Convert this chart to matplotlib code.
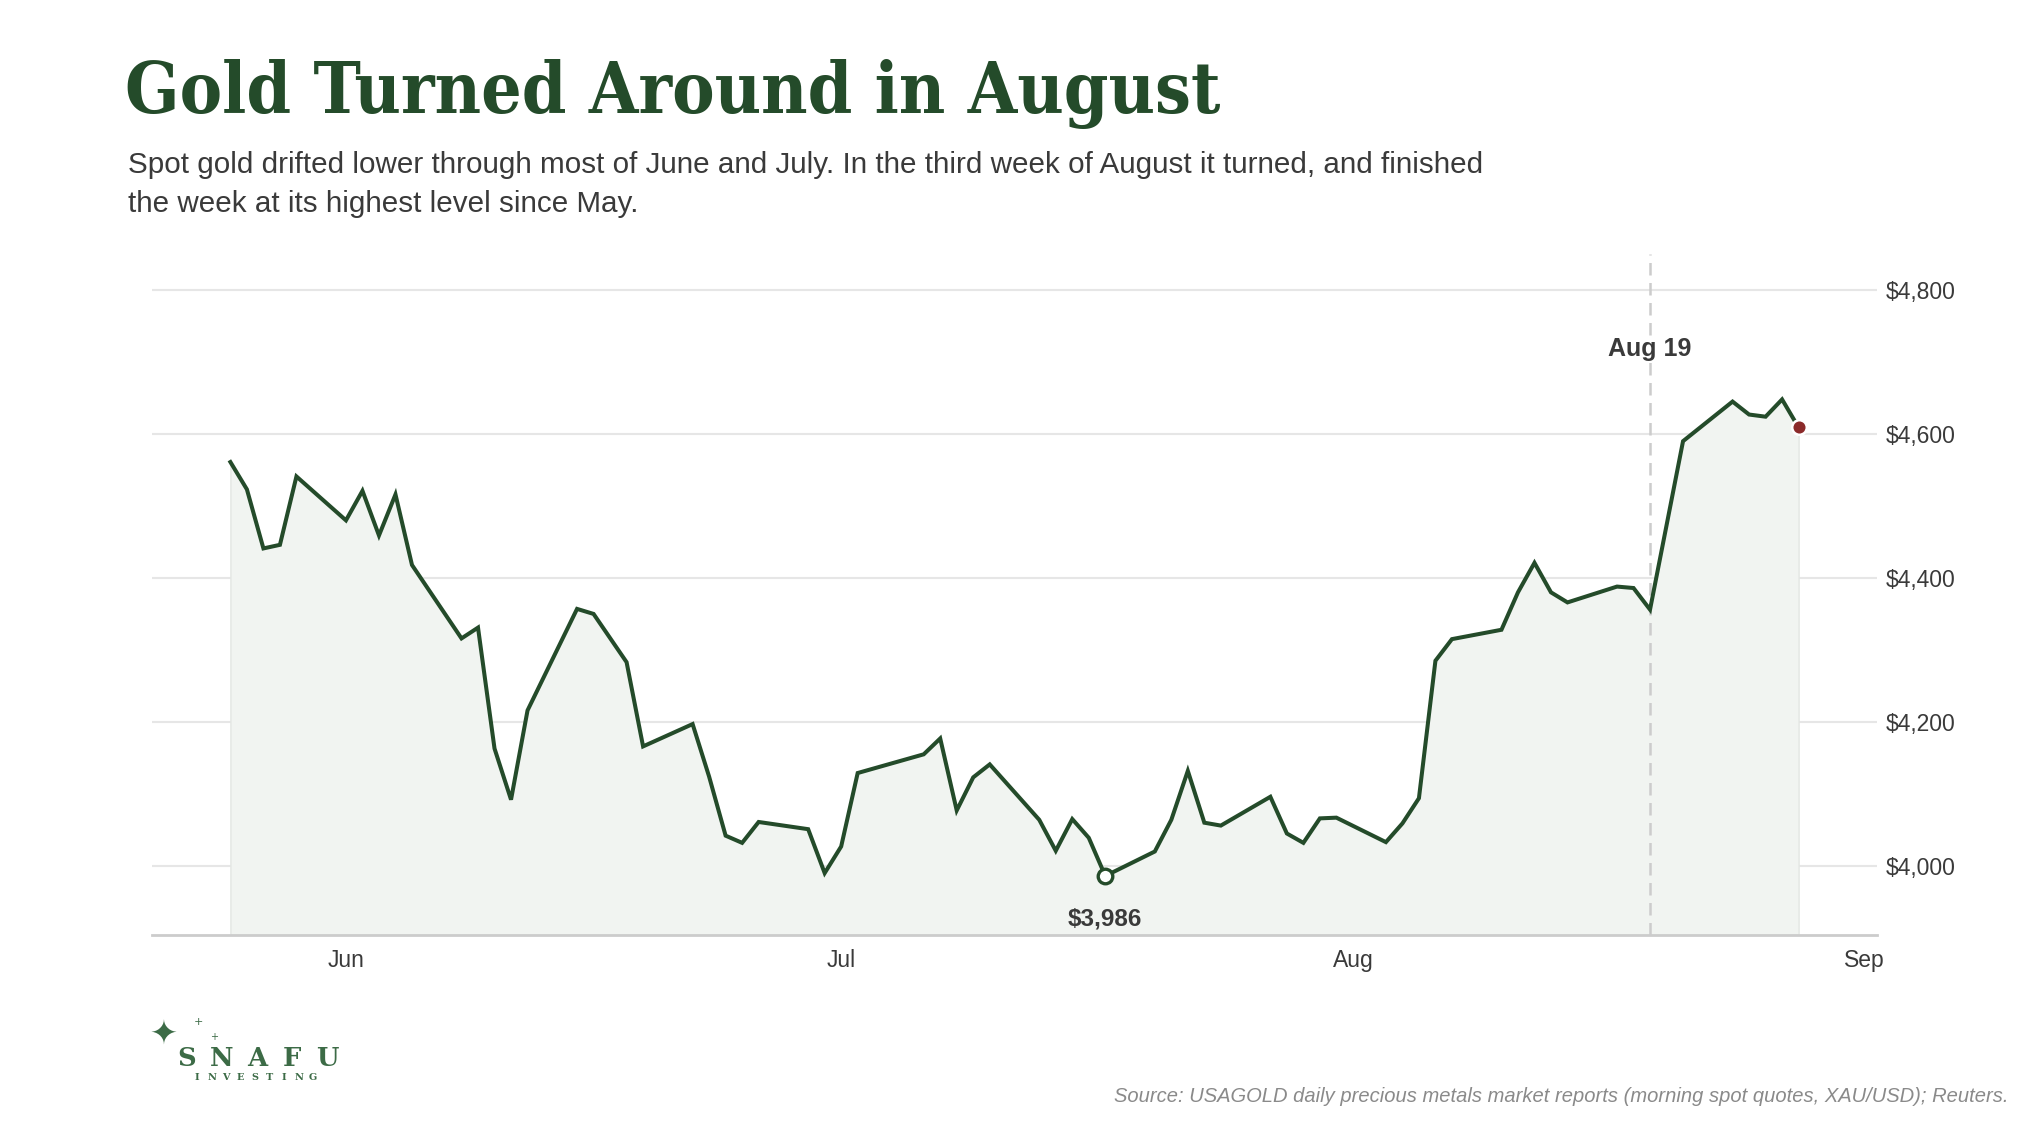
import matplotlib
matplotlib.use("Agg")
import matplotlib.pyplot as plt
import matplotlib.dates as mdates
import matplotlib.ticker as mticker
import pandas as pd

# morning spot quotes, XAU/USD
dates = [
    "2026-05-25", "2026-05-26", "2026-05-27", "2026-05-28", "2026-05-29",
    "2026-06-01", "2026-06-02", "2026-06-03", "2026-06-04", "2026-06-05",
    "2026-06-08", "2026-06-09", "2026-06-10", "2026-06-11", "2026-06-12",
    "2026-06-15", "2026-06-16", "2026-06-18", "2026-06-19",
    "2026-06-22", "2026-06-23", "2026-06-24", "2026-06-25", "2026-06-26",
    "2026-06-29", "2026-06-30", "2026-07-01", "2026-07-02",
    "2026-07-06", "2026-07-07", "2026-07-08", "2026-07-09", "2026-07-10",
    "2026-07-13", "2026-07-14", "2026-07-15", "2026-07-16", "2026-07-17",
    "2026-07-20", "2026-07-21", "2026-07-22", "2026-07-23", "2026-07-24",
    "2026-07-27", "2026-07-28", "2026-07-29", "2026-07-30", "2026-07-31",
    "2026-08-03", "2026-08-04", "2026-08-05", "2026-08-06", "2026-08-07",
    "2026-08-10", "2026-08-11", "2026-08-12", "2026-08-13", "2026-08-14",
    "2026-08-17", "2026-08-18", "2026-08-19", "2026-08-21",
    "2026-08-24", "2026-08-25", "2026-08-26", "2026-08-27", "2026-08-28",
]
prices = [
    4561, 4523, 4441, 4446, 4541,
    4480, 4521, 4459, 4516, 4418,
    4316, 4331, 4163, 4092, 4216,
    4357, 4350, 4283, 4166,
    4197, 4124, 4042, 4032, 4061,
    4051, 3990, 4027, 4129,
    4155, 4177, 4077, 4123, 4141,
    4064, 4021, 4065, 4039, 3986,
    4020, 4064, 4132, 4060, 4056,
    4096, 4045, 4032, 4066, 4067,
    4033, 4059, 4094, 4285, 4315,
    4328, 4380, 4421, 4380, 4366,
    4388, 4386, 4356, 4590,
    4645, 4627, 4624, 4648, 4609,
]
turn_date = "2026-08-19"
turn_label = "Aug 19"
y_ticks = [4000, 4200, 4400, 4600, 4800]

title = "Gold Turned Around in August"
subtitle = ["Spot gold drifted lower through most of June and July. In the third week of August it turned, and finished",
            "the week at its highest level since May."]
source = "Source: USAGOLD daily precious metals market reports (morning spot quotes, XAU/USD); Reuters."

green = "#244b2a"
text_col = "#3a3a3a"

df = pd.DataFrame({"date": pd.to_datetime(dates), "price": prices})

W, H = 2040, 1147
fig = plt.figure(figsize=(W / 100, H / 100), dpi=100)
plt.rcParams["font.family"] = ["Liberation Sans", "DejaVu Sans"]

def px(x, y):
    return x / W, 1 - y / H

ax = fig.add_axes([152 / W, 1 - 935 / H, (1877 - 152) / W, (935 - 254) / H])

y_bottom = 3904
ax.fill_between(df["date"], df["price"], y_bottom, facecolor="#f1f4f1",
                edgecolor="#e3e6e3", linewidth=1, zorder=1)
ax.plot(df["date"], df["price"], color=green, lw=2.9, zorder=3,
        solid_joinstyle="miter")

# low point
low = df.loc[df["price"].idxmin()]
ax.plot(low["date"], low["price"], "o", ms=10.5, mfc="white", mec=green,
        mew=2.4, zorder=4)
ax.annotate(f"${low['price']:,.0f}", (low["date"], low["price"]),
            xytext=(0, -31), textcoords="offset points", ha="center",
            va="center", fontsize=17.5, fontweight="bold", color=text_col)

# last point
last = df.iloc[-1]
ax.plot(last["date"], last["price"], "o", ms=10.5, mfc="#8b2a2a", mec="white",
        mew=1.8, zorder=5)

# turning point marker
t = pd.Timestamp(turn_date)
ax.axvline(t, color="#cccccc", lw=1.8, dashes=(5, 3), zorder=2)
ax.text(t, 4718, turn_label, ha="center", va="center", fontsize=18,
        fontweight="bold", color=text_col, zorder=6,
        bbox=dict(facecolor="white", edgecolor="none", pad=1))

ax.set_ylim(y_bottom, 4850)
ax.margins(x=0.05)
ax.set_yticks(y_ticks)
ax.yaxis.set_major_formatter(mticker.FuncFormatter(lambda v, p: f"${v:,.0f}"))
ax.yaxis.tick_right()
ax.xaxis.set_major_locator(mdates.MonthLocator())
ax.xaxis.set_major_formatter(mdates.DateFormatter("%b"))
ax.tick_params(axis="both", length=0, labelsize=16.5, labelcolor=text_col)
ax.tick_params(axis="x", pad=10)
ax.tick_params(axis="y", pad=6)
ax.grid(axis="y", color="#e6e6e6", lw=1.5)
ax.set_axisbelow(True)
for s in ["top", "left", "right"]:
    ax.spines[s].set_visible(False)
ax.spines["bottom"].set_color("#cccccc")
ax.spines["bottom"].set_linewidth(2)

# headings
fig.text(*px(125, 113), title, family="DejaVu Serif", fontweight="bold",
         fontstretch="condensed", fontsize=51.1, color=green, va="baseline")
for i, line in enumerate(subtitle):
    fig.text(*px(128, 173 + 39 * i), line, fontsize=21.35, color=text_col,
             va="baseline")
fig.text(*px(2009, 1102), source, fontsize=14.5, style="italic",
         color="#8a8a8a", ha="right", va="baseline")

# logo
logo_col = "#3c6b46"
fig.text(*px(164, 1035), "\u2726", family="DejaVu Sans", fontsize=24,
         color=logo_col, ha="center", va="center")
fig.text(*px(198, 1022), "+", family="DejaVu Sans", fontsize=8,
         color=logo_col, ha="center", va="center")
fig.text(*px(214, 1037), "+", family="DejaVu Sans", fontsize=7,
         color=logo_col, ha="center", va="center")
for i, ch in enumerate("SNAFU"):
    fig.text(*px(187 + 35 * i, 1058), ch, family="DejaVu Serif",
             fontweight="bold", fontsize=18.5, color=logo_col, ha="center",
             va="center")
for i, ch in enumerate("INVESTING"):
    fig.text(*px(197 + 14.5 * i, 1078), ch, family="DejaVu Serif",
             fontweight="bold", fontsize=7, color=logo_col, ha="center",
             va="center")

fig.savefig("out.png", dpi=100, facecolor="white")
